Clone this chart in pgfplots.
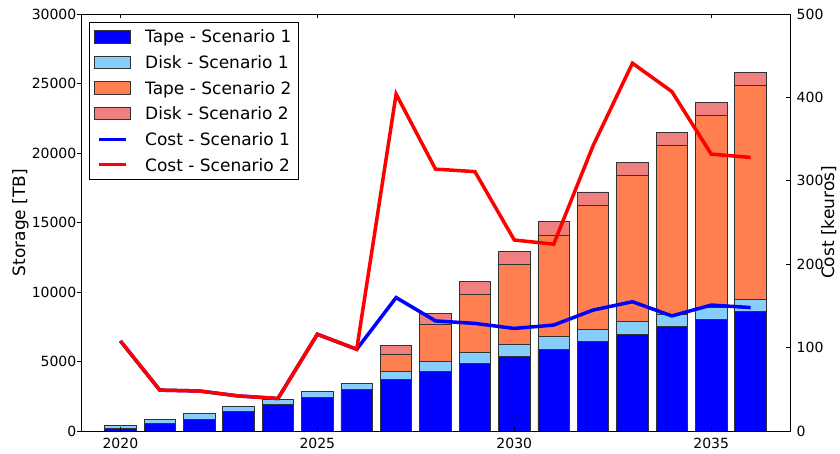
\documentclass[border=0pt]{standalone}
\usepackage{fontspec}
\setmainfont{DejaVu Sans}
\usepackage{pgfplots}
\usepackage{pgfplotstable}
\pgfplotsset{compat=1.18}

\definecolor{tapeA}{RGB}{0,0,255}
\definecolor{diskA}{RGB}{135,206,250}
\definecolor{tapeB}{RGB}{255,127,80}
\definecolor{diskB}{RGB}{240,128,128}

% storage segments [TB] (stacked)
\pgfplotstableread{
year tapeA diskA tapeB diskB
2020 190 190 0 0
2021 550 270 0 0
2022 860 390 0 0
2023 1390 410 0 0
2024 1890 410 0 0
2025 2440 410 0 0
2026 2990 410 0 0
2027 3730 530 1240 650
2028 4260 715 2680 825
2029 4830 820 4160 980
2030 5360 860 5740 960
2031 5885 885 7330 950
2032 6440 860 8960 940
2033 6960 890 10540 940
2034 7540 835 12145 960
2035 8040 880 13760 960
2036 8590 885 15355 960
}\storage

% cost [keuros]
\pgfplotstableread{
year costA costB
2020 108 108
2021 49 49
2022 48 48
2023 42 42
2024 39 39
2025 116 116
2026 98 98
2027 160 404
2028 132 314
2029 129 311
2030 123 229
2031 127 224
2032 145 342
2033 155 441
2034 138 407
2035 151 332
2036 148 328
}\cost

\begin{document}
\begin{tikzpicture}
\path[use as bounding box] (-81pt,-22pt) rectangle (759pt,431pt);
\begin{axis}[
  at={(0pt,0pt)}, anchor=south west,
  scale only axis, width=709pt, height=417pt,
  xmin=2019, xmax=2037, ymin=0, ymax=30000,
  ybar stacked, bar width=0.8,
  xtick={2020,2025,2030,2035},
  ytick={0,5000,...,30000},
  scaled y ticks=false,
  /pgf/number format/1000 sep={},
  /pgf/number format/assume math mode=true,
  tick label style={font=\fontsize{14}{16}\selectfont},
  xtick pos=both, ytick pos=left,
  xticklabel pos=lower,
  xtick align=inside, ytick align=outside,
  major tick length=4.5pt,
  tick style={black, line width=0.8pt},
  axis line style={black, line width=0.8pt},
  xticklabel style={inner sep=0pt, yshift=-7pt},
  yticklabel style={inner sep=0pt},
  axis on top,
  ylabel={Storage [TB]},
  ylabel style={at={(axis description cs:0,0.5)}, anchor=north, inner sep=0pt, yshift=69pt, font=\fontsize{17}{20}\selectfont},
]
\addplot[fill=tapeA, draw=black!80, line width=0.8pt] table[x=year,y=tapeA]{\storage};
\addplot[fill=diskA, draw=black!80, line width=0.8pt] table[x=year,y=diskA]{\storage};
\addplot[fill=tapeB, draw=black!80, line width=0.8pt] table[x=year,y=tapeB]{\storage};
\addplot[fill=diskB, draw=black!80, line width=0.8pt] table[x=year,y=diskB]{\storage};
\end{axis}
\begin{axis}[
  at={(0pt,0pt)}, anchor=south west,
  scale only axis, width=709pt, height=417pt,
  xmin=2019, xmax=2037, ymin=0, ymax=500,
  axis y line*=right, axis x line=none,
  ytick={0,100,...,500},
  /pgf/number format/assume math mode=true,
  tick label style={font=\fontsize{14}{16}\selectfont},
  ytick align=inside,
  major tick length=4.5pt,
  tick style={black, line width=0.8pt},
  axis line style={black, line width=0.8pt},
  yticklabel style={inner sep=0pt, xshift=6.5pt},
  ylabel={Cost [keuros]},
  ylabel style={at={(axis description cs:1,0.5)}, anchor=north, inner sep=0pt, yshift=-31pt, font=\fontsize{17}{20}\selectfont},
  legend cell align=left,
  legend style={at={(rel axis cs:0,1)}, anchor=north west, xshift=8pt, yshift=-8pt,
    draw=black, fill=white, line width=0.8pt,
    font=\fontsize{17}{20}\selectfont,
    inner xsep=5pt, inner ysep=6pt, row sep=9pt,
    nodes={inner sep=2pt, text height=12.6pt, text depth=0pt},
    /tikz/every odd column/.append style={column sep=12pt}},
]
\addlegendimage{legend image code/.code={\draw[fill=tapeA, draw=black!80, line width=0.8pt] (0pt,-6.3pt) rectangle (36pt,6.3pt);}}
\addlegendentry{Tape - Scenario 1}
\addlegendimage{legend image code/.code={\draw[fill=diskA, draw=black!80, line width=0.8pt] (0pt,-6.3pt) rectangle (36pt,6.3pt);}}
\addlegendentry{Disk - Scenario 1}
\addlegendimage{legend image code/.code={\draw[fill=tapeB, draw=black!80, line width=0.8pt] (0pt,-6.3pt) rectangle (36pt,6.3pt);}}
\addlegendentry{Tape - Scenario 2}
\addlegendimage{legend image code/.code={\draw[fill=diskB, draw=black!80, line width=0.8pt] (0pt,-6.3pt) rectangle (36pt,6.3pt);}}
\addlegendentry{Disk - Scenario 2}
\addplot[blue, line width=3.5pt, legend image code/.code={\draw[blue, line width=3pt] (4.5pt,0pt) -- (31.5pt,0pt);}] table[x=year,y=costA]{\cost};
\addlegendentry{Cost - Scenario 1}
\addplot[red, line width=3.5pt, legend image code/.code={\draw[red, line width=3pt] (4.5pt,0pt) -- (31.5pt,0pt);}] table[x=year,y=costB]{\cost};
\addlegendentry{Cost - Scenario 2}
\end{axis}
\end{tikzpicture}
\end{document}
